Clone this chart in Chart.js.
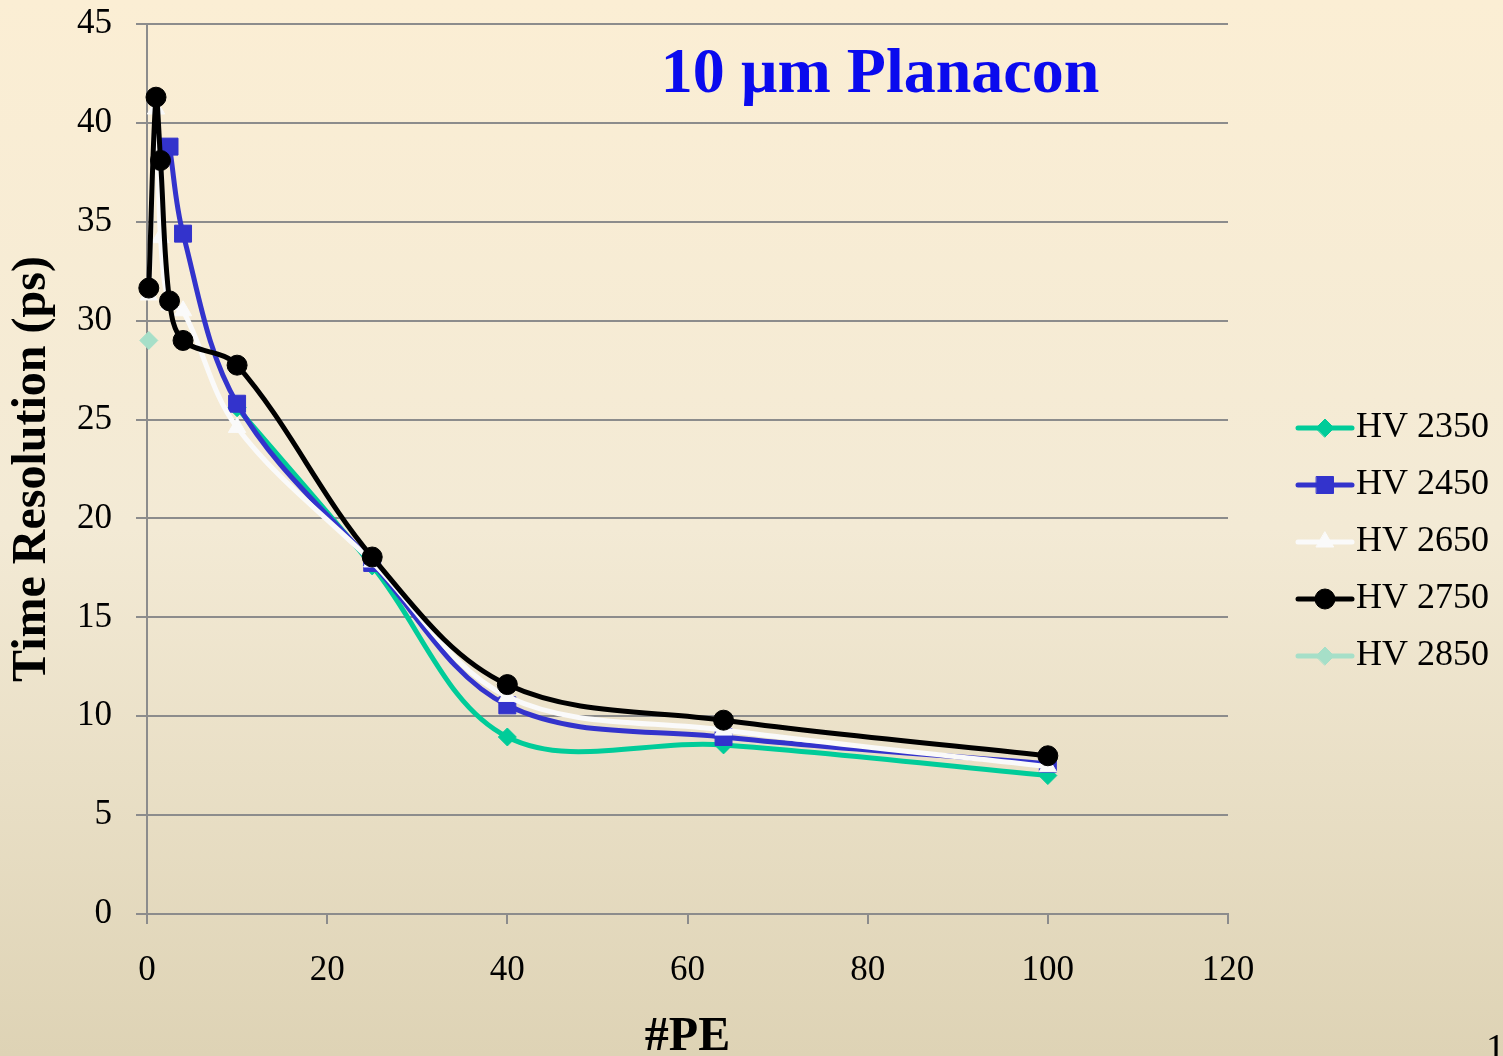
<!DOCTYPE html>
<html>
<head>
<meta charset="utf-8">
<title>10 µm Planacon - Time Resolution vs #PE</title>
<script src="https://cdn.jsdelivr.net/npm/chart.js@4.4.1/dist/chart.umd.min.js"></script>
<style>
    html, body { margin: 0; padding: 0; }
    body {
        width: 1503px;
        height: 1056px;
        overflow: hidden;
        position: relative;
        background: linear-gradient(to bottom, #fbeed4 0%, #f3ead5 50%, #ded3b5 100%);
        font-family: "Liberation Serif", "Times New Roman", serif;
    }
    #wrap { position: absolute; left: 0; top: 0; width: 1503px; height: 1056px; }
    #title {
        position: absolute;
        left: 880px;
        top: 39px;
        transform: translateX(-50%);
        color: #0a0aee;
        font-weight: bold;
        font-size: 64px;
        line-height: 64px;
        white-space: nowrap;
    }
    #slideNo {
        position: absolute;
        left: 1486px;
        top: 1028px;
        font-size: 38px;
        line-height: 38px;
        color: #000;
        white-space: nowrap;
    }
</style>
</head>
<body>
<div id="wrap"><canvas id="chart"></canvas></div>
<div id="title">10 µm Planacon</div>
<div id="slideNo">14</div>
<script>
// Data (#PE vs time resolution in ps)
const pe2350 = [10, 25, 40, 64, 100];
const hv2350 = [25.6, 17.6, 8.95, 8.55, 7.0];

const pe2450 = [2.5, 4, 10, 25, 40, 64, 100];
const hv2450 = [38.8, 34.4, 25.8, 17.75, 10.55, 8.95, 7.6];

const pe2650 = [0.2, 1, 1.5, 2.5, 4, 10, 25, 40, 64, 100];
const hv2650 = [31.3, 40.7, 34.2, 30.8, 30.5, 24.6, 17.8, 11.0, 9.3, 7.45];

const pe2750 = [0.2, 1, 1.5, 2.5, 4, 10, 25, 40, 64, 100];
const hv2750 = [31.65, 41.3, 38.1, 31.0, 29.0, 27.75, 18.05, 11.6, 9.8, 8.0];

const pe2850 = [0.2];
const hv2850 = [29.0];

const seriesLabels = ['HV 2350', 'HV 2450', 'HV 2650', 'HV 2750', 'HV 2850'];

const xMin = 0, xMax = 120, xStep = 20;
const yMin = 0, yMax = 45, yStep = 5;

const SERIF = '"Liberation Serif", "Times New Roman", serif';
const GRID = '#8c8c8c';

function toPoints(xs, ys) {
    return xs.map((x, i) => ({ x: x, y: ys[i] }));
}

function makeSeries(label, xs, ys, color, style, radius, order) {
    return {
        label: label,
        data: toPoints(xs, ys),
        borderColor: color,
        backgroundColor: color,
        pointBackgroundColor: color,
        pointBorderColor: color,
        pointStyle: style,
        pointRadius: radius,
        pointHoverRadius: radius,
        pointBorderWidth: 1,
        borderWidth: 5,
        tension: 0.35,
        fill: false,
        clip: false,
        order: order
    };
}

// Legend on the right: line sample + marker + label
const sideLegend = {
    id: 'sideLegend',
    afterDraw(chart) {
        const ctx = chart.ctx;
        const area = chart.chartArea;
        const x0 = area.right + 70;
        const x1 = area.right + 124;
        const xm = (x0 + x1) / 2;
        ctx.save();
        chart.data.datasets.forEach((ds, i) => {
            const y = 428 + i * 57;
            ctx.strokeStyle = ds.borderColor;
            ctx.lineWidth = 5;
            ctx.lineCap = 'round';
            ctx.beginPath();
            ctx.moveTo(x0, y);
            ctx.lineTo(x1, y);
            ctx.stroke();

            ctx.fillStyle = ds.pointBackgroundColor;
            ctx.strokeStyle = ds.pointBorderColor;
            ctx.lineWidth = 1;
            Chart.helpers.drawPoint(ctx, {
                pointStyle: ds.pointStyle,
                radius: ds.pointRadius,
                borderWidth: 1,
                rotation: 0
            }, xm, y);

            ctx.fillStyle = '#000';
            ctx.font = '36px ' + SERIF;
            ctx.textBaseline = 'middle';
            ctx.textAlign = 'left';
            ctx.fillText(ds.label, x1 + 4, y);
        });
        ctx.restore();
    }
};

document.addEventListener('DOMContentLoaded', () => {
    const ctx = document.getElementById('chart');
    new Chart(ctx, {
        type: 'line',
        data: {
            datasets: [
                makeSeries(seriesLabels[0], pe2350, hv2350, '#00cc99', 'rectRot', 9, 4),
                makeSeries(seriesLabels[1], pe2450, hv2450, '#3333cc', 'rect', 12, 3),
                makeSeries(seriesLabels[2], pe2650, hv2650, '#fafafa', 'triangle', 10, 2),
                makeSeries(seriesLabels[3], pe2750, hv2750, '#000000', 'circle', 10, 1),
                makeSeries(seriesLabels[4], pe2850, hv2850, '#a6dfc8', 'rectRot', 9, 5)
            ]
        },
        options: {
            responsive: true,
            maintainAspectRatio: false,
            animation: false,
            layout: { padding: { top: 24, right: 275, bottom: 0, left: 0 } },
            plugins: {
                legend: { display: false },
                tooltip: { enabled: false }
            },
            scales: {
                x: {
                    type: 'linear',
                    min: xMin,
                    max: xMax,
                    afterFit: s => { s.height = 142; s.paddingLeft = 0; s.paddingRight = 0; },
                    ticks: {
                        stepSize: xStep,
                        color: '#000',
                        padding: 26,
                        font: { family: SERIF, size: 35 }
                    },
                    grid: {
                        drawOnChartArea: false,
                        drawTicks: true,
                        tickLength: 10,
                        color: GRID,
                        lineWidth: 2
                    },
                    border: { display: true, color: GRID, width: 2 },
                    title: {
                        display: true,
                        text: '#PE',
                        color: '#000',
                        font: { family: SERIF, size: 48, weight: 'bold', lineHeight: 1 },
                        padding: { top: 0, bottom: -6 }
                    }
                },
                y: {
                    type: 'linear',
                    min: yMin,
                    max: yMax,
                    afterFit: s => { s.width = 147; s.paddingTop = 0; s.paddingBottom = 0; },
                    ticks: {
                        stepSize: yStep,
                        color: '#000',
                        padding: 24,
                        font: { family: SERIF, size: 35 }
                    },
                    grid: {
                        drawTicks: true,
                        tickLength: 11,
                        color: GRID,
                        lineWidth: 2
                    },
                    border: { display: true, color: GRID, width: 2 },
                    title: {
                        display: true,
                        text: 'Time Resolution (ps)',
                        color: '#000',
                        font: { family: SERIF, size: 48, weight: 'bold', lineHeight: 1 },
                        padding: { top: 9, bottom: 0 }
                    }
                }
            }
        },
        plugins: [sideLegend]
    });
});
</script>
</body>
</html>
